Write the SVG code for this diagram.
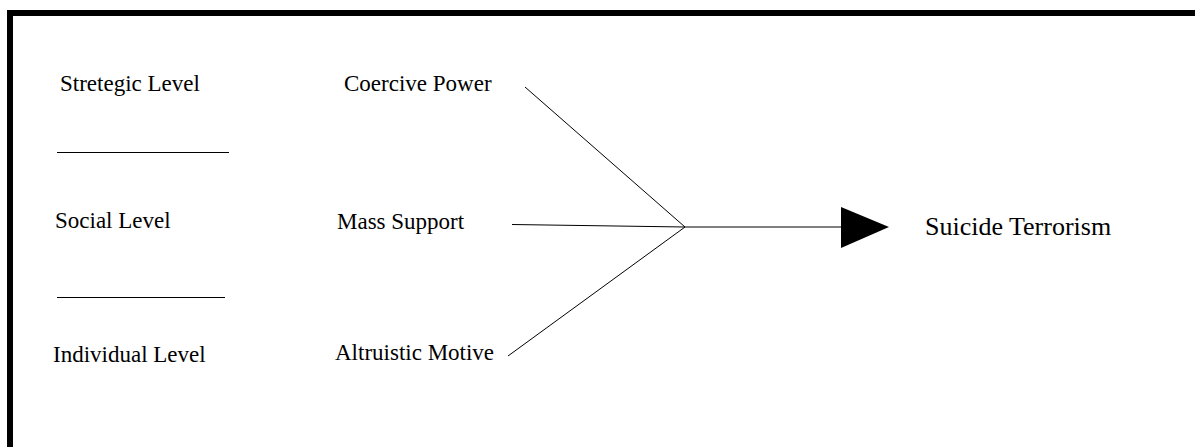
<svg xmlns="http://www.w3.org/2000/svg" width="1195" height="447" viewBox="0 0 1195 447">
<style>
.t{font-family:"Liberation Serif","Times New Roman",serif;font-size:23px;fill:#000}
.big{font-size:26px}
.c{stroke:#000;stroke-width:1;fill:none}
</style>
<rect width="1195" height="447" fill="#fff"/>
<path d="M10,447 V13 H1195" fill="none" stroke="#000" stroke-width="6" stroke-linejoin="miter"/>
<g id="levels">
<text class="t" x="60" y="91">Stretegic Level</text>
<line x1="57" y1="152.5" x2="229" y2="152.5" class="c"/>
<text class="t" x="55" y="228">Social Level</text>
<line x1="57" y1="297.5" x2="225" y2="297.5" class="c"/>
<text class="t" x="53" y="362">Individual Level</text>
</g>
<g id="coercive"><text class="t" x="344" y="91">Coercive Power</text></g>
<g id="mass"><text class="t" x="337" y="229">Mass Support</text></g>
<g id="altruistic"><text class="t" x="335" y="360">Altruistic Motive</text></g>
<g id="suicide"><text class="t big" x="925" y="235">Suicide Terrorism</text></g>
<g id="connectors">
<line x1="525" y1="87" x2="685" y2="227" class="c"/>
<line x1="512" y1="224.5" x2="685" y2="227" class="c"/>
<line x1="508" y1="356" x2="685" y2="227" class="c"/>
<line x1="685" y1="227" x2="842" y2="227" class="c"/>
<polygon points="841,207 889,227 841,248" fill="#000"/>
</g>
</svg>
